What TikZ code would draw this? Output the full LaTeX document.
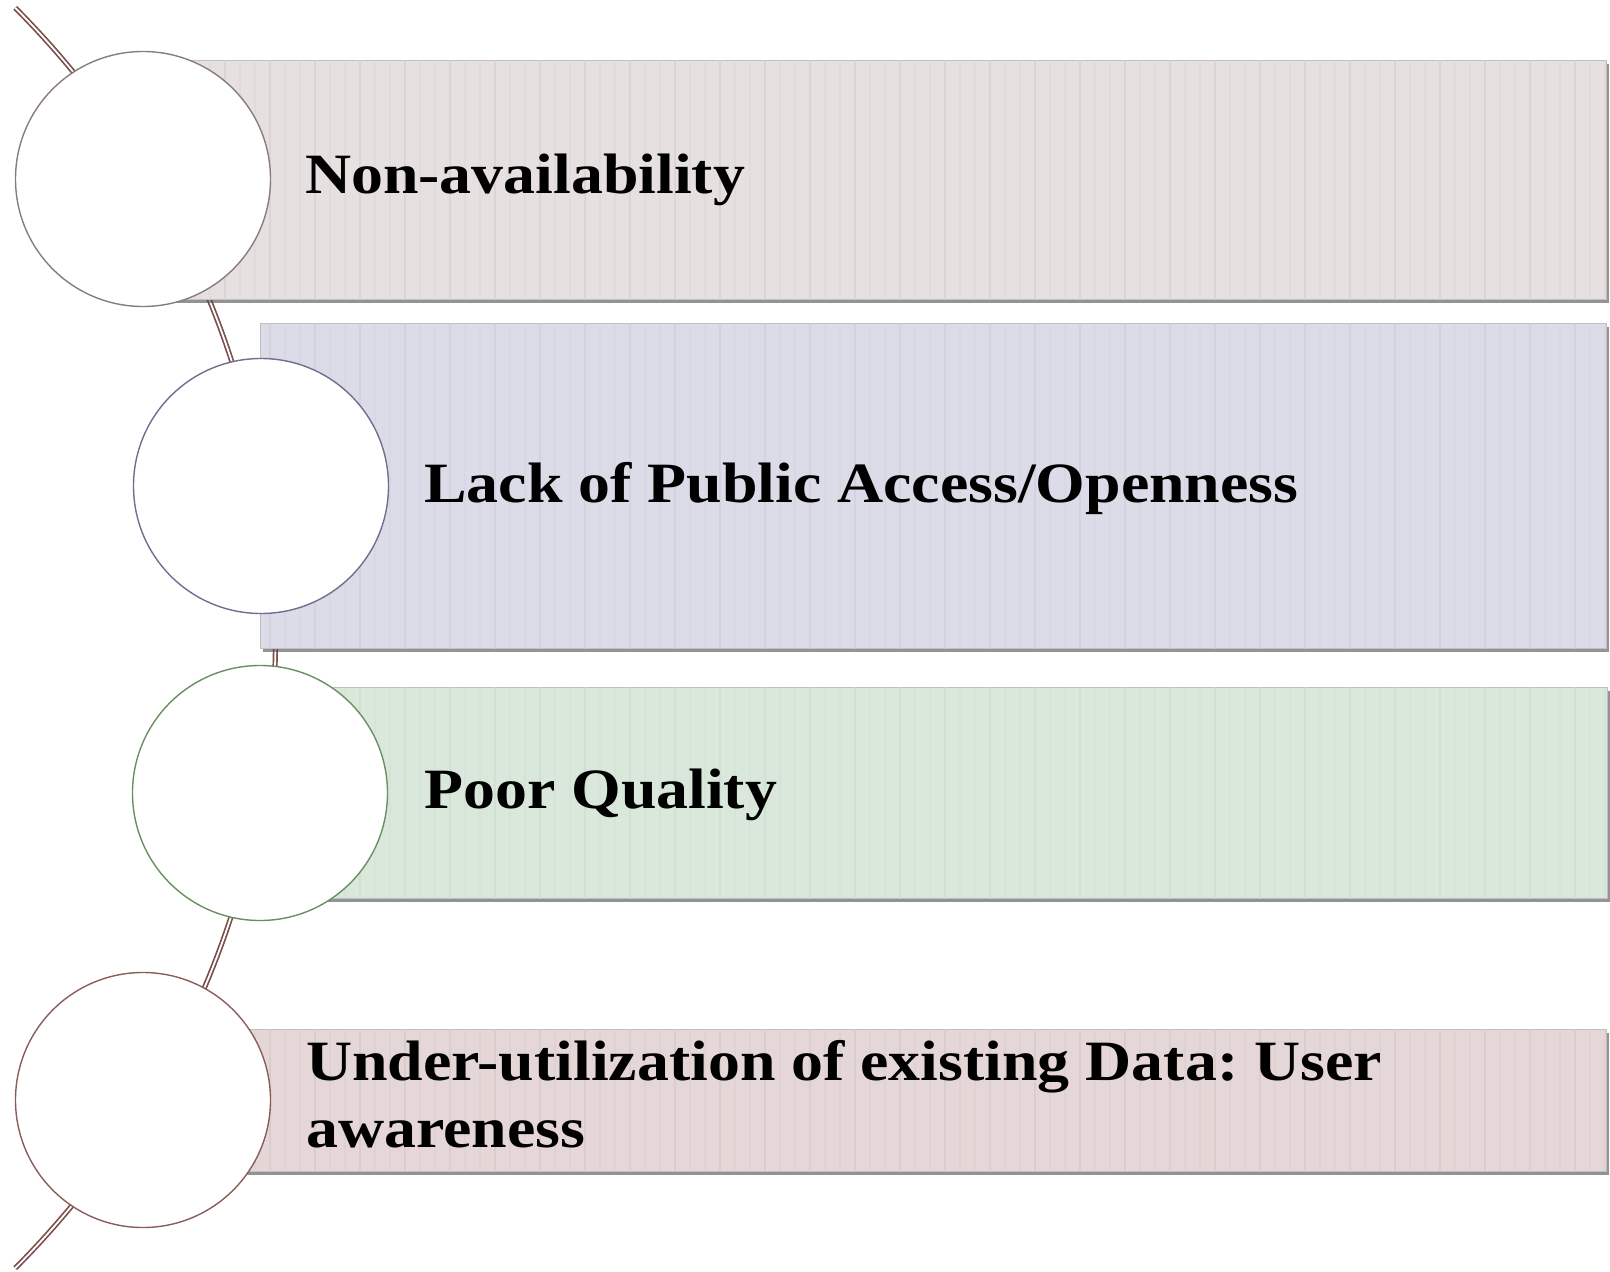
\documentclass[tikz,border=0pt]{standalone}
\usepackage{fontspec}
\usetikzlibrary{shadows}
\newfontfamily\labelfont[FakeStretch=1.12]{Liberation Serif}
\frenchspacing

\definecolor{spinecol}{HTML}{7A4E4A}
\definecolor{fillA}{HTML}{E6E0E0}\definecolor{stripeA}{HTML}{D8CFCF}
\definecolor{fillB}{HTML}{DCDCE8}\definecolor{stripeB}{HTML}{CECEDC}
\definecolor{fillC}{HTML}{D9E8DB}\definecolor{stripeC}{HTML}{CBDCCD}
\definecolor{fillD}{HTML}{E5D7D7}\definecolor{stripeD}{HTML}{D7C7C7}
\definecolor{ringA}{HTML}{8A7C7C}
\definecolor{ringB}{HTML}{6E6F8F}
\definecolor{ringC}{HTML}{6A8F62}
\definecolor{ringD}{HTML}{8A5D5A}

\tikzset{
  spine/.style={draw=spinecol, line width=1.7pt, double=white, double distance=1.8pt},
  bar/.style={draw=black!25, line width=0.9pt, rectangle, inner sep=0pt,
              anchor=north west,
              drop shadow={shadow xshift=3pt, shadow yshift=-4pt, fill=black!70, opacity=0.6}},
  ring/.style={circle, fill=white, line width=1.4pt, minimum size=255pt, inner sep=0pt},
  label/.style={anchor=base west, inner sep=0pt, align=left,
                font=\labelfont\bfseries\fontsize{57}{67}\selectfont},
  stripe/.style={line width=2.6pt}
}

% vertical texture inside a bar
\newcommand\barstripes[2]{%
  \begin{scope}
    \clip (#1.south west) rectangle (#1.north east);
    \foreach \sx [count=\k] in {150,165,...,1610}{
      \pgfmathsetmacro\op{mod(\k,3)==0 ? 0.6 : 0.25}
      \draw[stripe, draw=#2, opacity=\op] (\sx,0) -- (\sx,1272);
    }
  \end{scope}}

\begin{document}
\begin{tikzpicture}[x=1pt, y=-1pt]
  \useasboundingbox[fill=white] (0,0) rectangle (1610,1272);

  % the curved spine running behind everything
  \coordinate (arctop) at (15.3,7.9);
  \coordinate (arcbot) at (15.3,1268.1);
  \draw[spine] (arctop) arc[start angle=-44.88, end angle=44.88, radius=893];

  % bars
  \node[bar, fill=fillA, minimum width=1463pt, minimum height=239pt] (r1) at (143,60) {};
  \barstripes{r1}{stripeA}
  \node[bar, fill=fillB, minimum width=1346pt, minimum height=325pt] (r2) at (260,323) {};
  \barstripes{r2}{stripeB}
  \node[bar, fill=fillC, minimum width=1347pt, minimum height=211pt] (r3) at (260,687) {};
  \barstripes{r3}{stripeC}
  \node[bar, fill=fillD, minimum width=1463pt, minimum height=142pt] (r4) at (143,1029) {};
  \barstripes{r4}{stripeD}

  % rings
  \node[ring, draw=ringA] (c1) at (143,179) {};
  \node[ring, draw=ringB] (c2) at (261,486) {};
  \node[ring, draw=ringC] (c3) at (260,793) {};
  \node[ring, draw=ringD] (c4) at (143,1100) {};

  % labels
  \node[label] (t1) at (305,193) {Non-availability};
  \node[label] (t2) at (424,502) {Lack of Public Access/Openness};
  \node[label] (t3) at (424,808) {Poor Quality};
  \node[label] (t4) at (306,1147) {Under-utilization of existing Data: User\\awareness};
\end{tikzpicture}
\end{document}
